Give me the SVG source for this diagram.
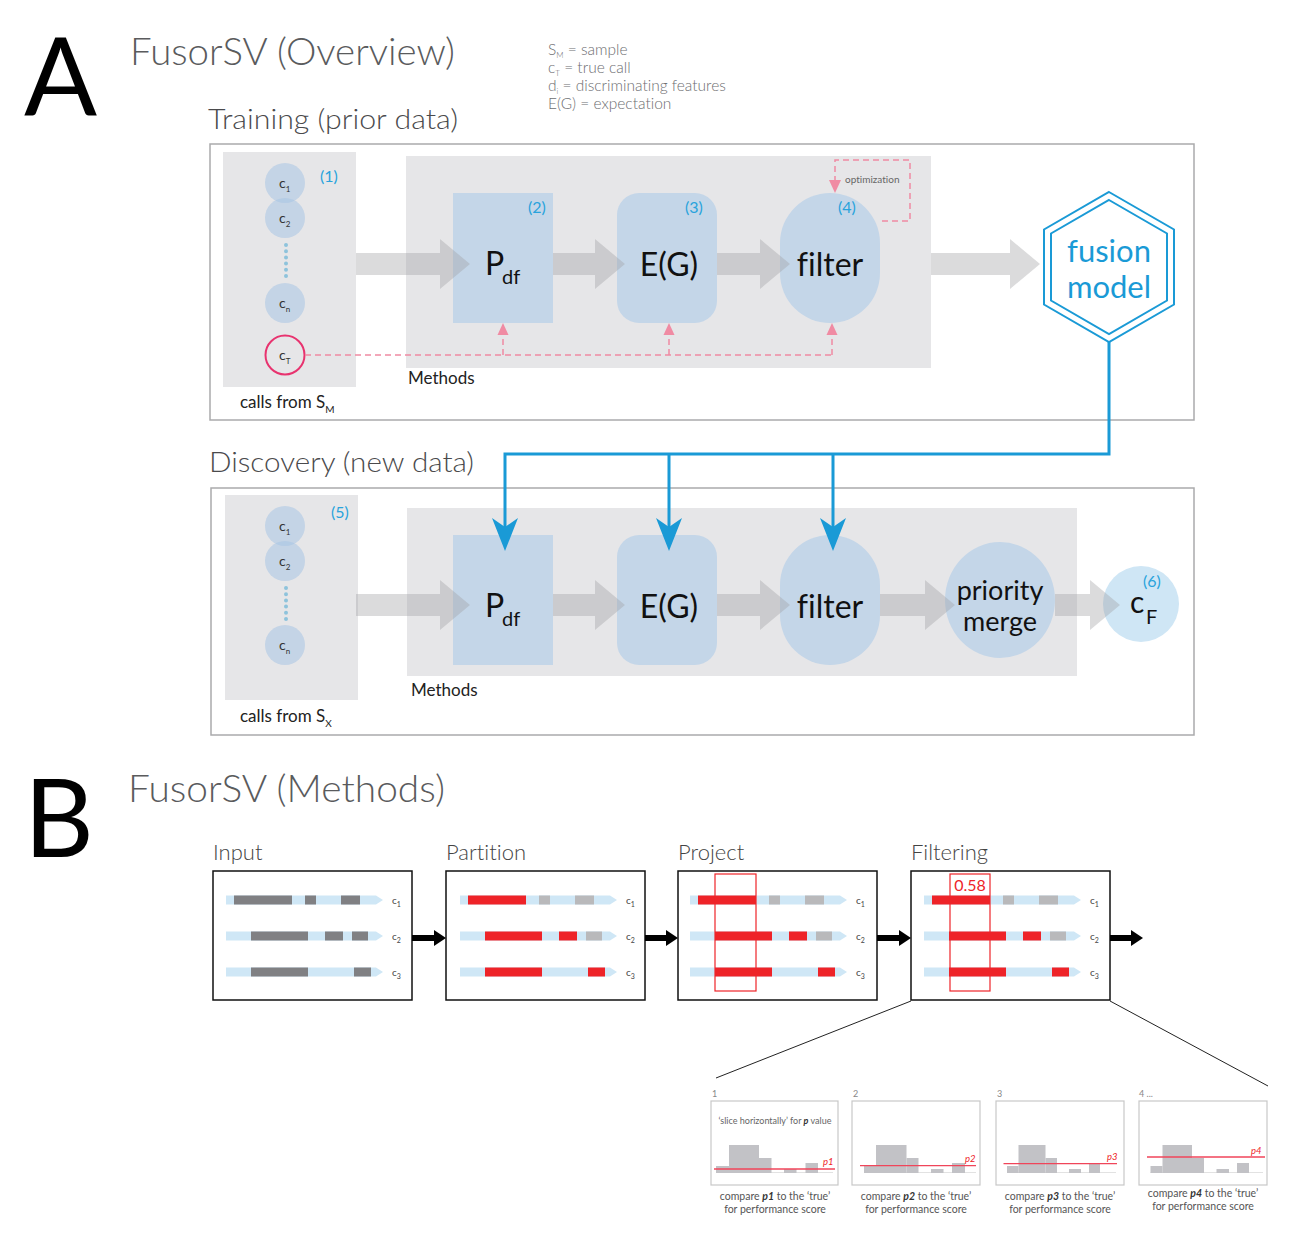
<svg xmlns="http://www.w3.org/2000/svg" width="1304" height="1244" viewBox="0 0 1304 1244">
<style>
text{font-family:Lato,"Noto Sans","Liberation Sans",sans-serif;font-variant-ligatures:none}
.big{font-size:108px;fill:#000}
.h1{font-size:38px;fill:#5a5b5d;font-weight:300}
.h2{font-size:28px;fill:#4a4a4c;font-weight:300}
.leg{font-size:15.5px;fill:#6d6e71;font-weight:300}
.lab{font-size:17px;fill:#222}
.num{font-size:16px;fill:#29a3dc}
.node{fill:#c4d6e8}
.bg{fill:#e6e6e8}
.frame{fill:#fff;stroke:#aaaaac;stroke-width:1.5}
.call{fill:#a8c5e3;fill-opacity:0.55}
.ctxt{font-size:14px;fill:#333}
.csub{font-size:8px;fill:#333}
.gar{fill:#a0a0a2;fill-opacity:0.38}
.nt{font-size:32px;fill:#111;text-anchor:middle}
.pink{fill:none;stroke:#f08ba3;stroke-width:1.5;stroke-dasharray:6 4}
.pinkh{fill:#f08ba3}
.blue{fill:none;stroke:#1a9ad6;stroke-width:3}
.blueh{fill:#1a9ad6}
.pbox{fill:#fff;stroke:#111;stroke-width:1.5}
.ptitle{font-size:22px;fill:#444;font-weight:300}
.bar{fill:#cfe7f6}
.dg{fill:#808083}
.lg{fill:#b9b9bb}
.rd{fill:#ee2328}
.rl{font-size:10px;fill:#444}
.rs{font-size:7px;fill:#444}
.bk{fill:#000}
.sub{fill:#fff;stroke:#c8c8c8;stroke-width:1.2}
.hist{fill:#c2c2c6}
.rline{stroke:#f0455a;stroke-width:1.3}
.cap{font-size:10.5px;fill:#555;text-anchor:middle}
.sn{font-size:9px;fill:#888}
.pl{font-size:9.5px;fill:#ee2328;font-style:italic}
</style>

<!-- Headings -->
<text class="big" x="24" y="115">A</text>
<text class="h1" x="130" y="65" textLength="325" lengthAdjust="spacingAndGlyphs">FusorSV (Overview)</text>
<g id="legend">
<text class="leg" x="548" y="55">S<tspan font-size="8" dy="3">M</tspan><tspan dy="-3"> = sample</tspan></text>
<text class="leg" x="548" y="73">c<tspan font-size="8" dy="3">T</tspan><tspan dy="-3"> = true call</tspan></text>
<text class="leg" x="548" y="91">d<tspan font-size="8" dy="3">i</tspan><tspan dy="-3"> = discriminating features</tspan></text>
<text class="leg" x="548" y="109">E(G) = expectation</text>
</g>
<text class="h2" x="208" y="129" textLength="250" lengthAdjust="spacingAndGlyphs">Training (prior data)</text>

<!-- Training frame -->
<g id="training">
<rect class="frame" x="210" y="144" width="984" height="276"/>
<rect class="bg" x="223" y="152" width="133" height="235"/>
<rect class="bg" x="406" y="156" width="525" height="212"/>
<text class="lab" x="408" y="384">Methods</text>
<text class="lab" x="240" y="408">calls from S<tspan font-size="10" dy="5">M</tspan></text>
</g>

<g id="calls-train">
<circle class="call" cx="285" cy="183" r="20"/>
<circle class="call" cx="285" cy="218" r="20"/>
<circle class="call" cx="285" cy="303" r="20"/>
<line x1="286" y1="245" x2="286" y2="276" stroke="#8ec3dc" stroke-width="4" stroke-linecap="round" stroke-dasharray="0 6.2"/>
<circle cx="285" cy="355" r="19.5" fill="none" stroke="#e8336f" stroke-width="2"/>
<text class="ctxt" x="279" y="188">c<tspan class="csub" dy="4">1</tspan></text>
<text class="ctxt" x="279" y="223">c<tspan class="csub" dy="4">2</tspan></text>
<text class="ctxt" x="279" y="308">c<tspan class="csub" dy="4">n</tspan></text>
<text class="ctxt" x="279" y="360">c<tspan class="csub" dy="4">T</tspan></text>
<text class="num" x="320" y="182">(1)</text>
</g>

<g id="pdf-train">
<rect class="node" x="453" y="193" width="100" height="130"/>
<text x="485" y="275" font-size="32" fill="#111">P</text>
<text x="502" y="284" font-size="20" fill="#111">df</text>
<text class="num" x="528" y="213">(2)</text>
</g>
<g id="eg-train">
<rect class="node" x="617" y="193" width="100" height="130" rx="22"/>
<text class="nt" x="669" y="276">E(G)</text>
<text class="num" x="685" y="213">(3)</text>
</g>
<g id="filter-train">
<rect class="node" x="780" y="193" width="100" height="130" rx="50"/>
<text class="nt" x="830" y="276">filter</text>
<text class="num" x="838" y="213">(4)</text>
</g>
<g id="fusion-model">
<polygon points="1109,192 1174,229.5 1174,304.5 1109,342 1044,304.5 1044,229.5" fill="#fff" stroke="#1a9ad6" stroke-width="2"/>
<polygon points="1109,200 1167,233.5 1167,300.5 1109,334 1051,300.5 1051,233.5" fill="none" stroke="#1a9ad6" stroke-width="2"/>
<text x="1109" y="262" font-size="31" fill="#1a9ad6" text-anchor="middle">fusion</text>
<text x="1109" y="298" font-size="31" fill="#1a9ad6" text-anchor="middle">model</text>
</g>

<!-- Discovery -->
<text class="h2" x="209" y="472" textLength="265" lengthAdjust="spacingAndGlyphs">Discovery (new data)</text>
<g id="discovery">
<rect class="frame" x="211" y="488" width="983" height="247"/>
<rect class="bg" x="225" y="495" width="133" height="205"/>
<rect class="bg" x="407" y="508" width="670" height="168"/>
<text class="lab" x="411" y="696">Methods</text>
<text class="lab" x="240" y="722">calls from S<tspan font-size="10" dy="5">X</tspan></text>
</g>
<g id="calls-disc">
<circle class="call" cx="285" cy="526" r="20"/>
<circle class="call" cx="285" cy="561" r="20"/>
<circle class="call" cx="285" cy="645" r="20"/>
<line x1="286" y1="588" x2="286" y2="619" stroke="#8ec3dc" stroke-width="4" stroke-linecap="round" stroke-dasharray="0 6.2"/>
<text class="ctxt" x="279" y="531">c<tspan class="csub" dy="4">1</tspan></text>
<text class="ctxt" x="279" y="566">c<tspan class="csub" dy="4">2</tspan></text>
<text class="ctxt" x="279" y="650">c<tspan class="csub" dy="4">n</tspan></text>
<text class="num" x="331" y="518">(5)</text>
</g>
<g id="pdf-disc">
<rect class="node" x="453" y="535" width="100" height="130"/>
<text x="485" y="617" font-size="32" fill="#111">P</text>
<text x="502" y="626" font-size="20" fill="#111">df</text>
</g>
<g id="eg-disc">
<rect class="node" x="617" y="535" width="100" height="130" rx="22"/>
<text class="nt" x="669" y="618">E(G)</text>
</g>
<g id="filter-disc">
<rect class="node" x="780" y="535" width="100" height="130" rx="50"/>
<text class="nt" x="830" y="618">filter</text>
</g>
<g id="priority-merge">
<ellipse class="node" cx="1000" cy="600" rx="55" ry="58"/>
<text x="1000" y="600" font-size="27" fill="#111" text-anchor="middle">priority</text>
<text x="1000" y="631" font-size="27" fill="#111" text-anchor="middle">merge</text>
</g>
<g id="cF">
<circle cx="1141" cy="604" r="38" fill="#cfe6f5"/>
<text x="1130" y="613" font-size="30" fill="#111">c</text>
<text x="1146" y="624" font-size="20" fill="#111">F</text>
<text class="num" x="1143" y="587" font-size="15">(6)</text>
</g>

<!-- Connectors panel A -->
<g id="connectors-A">
<polygon class="gar" points="356,253 440,253 440,239 470,264 440,289 440,275 356,275"/>
<polygon class="gar" points="553,253 595,253 595,239 625,264 595,289 595,275 553,275"/>
<polygon class="gar" points="717,253 760,253 760,239 790,264 760,289 760,275 717,275"/>
<polygon class="gar" points="931,253 1010,253 1010,239 1040,264 1010,289 1010,275 931,275"/>
<polygon class="gar" points="356,594 440,594 440,580 470,605 440,630 440,616 356,616"/>
<polygon class="gar" points="553,594 595,594 595,580 625,605 595,630 595,616 553,616"/>
<polygon class="gar" points="717,594 760,594 760,580 790,605 760,630 760,616 717,616"/>
<polygon class="gar" points="880,594 925,594 925,580 955,605 925,630 925,616 880,616"/>
<polygon class="gar" points="1055,594 1090,594 1090,580 1120,605 1090,630 1090,616 1055,616"/>
<path class="pink" d="M305,355 H832 M503,355 V333 M669,355 V333 M832,355 V333"/>
<polygon class="pinkh" points="503,323 497.5,335 508.5,335"/>
<polygon class="pinkh" points="669,323 663.5,335 674.5,335"/>
<polygon class="pinkh" points="832,323 826.5,335 837.5,335"/>
<path class="pink" d="M835,182 V160 H910 V221 H880"/>
<polygon class="pinkh" points="835,193 829,180 841,180"/>
<text x="845" y="183" font-size="10" fill="#666">optimization</text>
<path class="blue" d="M1109,342 V454 H505 V528 M669,454 V528 M833,454 V528"/>
<path class="blueh" d="M505,551 L492,518 L505,527 L518,518 Z"/>
<path class="blueh" d="M669,551 L656,518 L669,527 L682,518 Z"/>
<path class="blueh" d="M833,551 L820,518 L833,527 L846,518 Z"/>
</g>

<!-- Panel B -->
<text class="big" x="24" y="857">B</text>
<text class="h1" x="128" y="802" textLength="317" lengthAdjust="spacingAndGlyphs">FusorSV (Methods)</text>

<defs>
<g id="rows">
<polygon class="bar" points="0,-4.5 150,-4.5 157,0 150,4.5 0,4.5"/>
<polygon class="bar" points="0,31.5 150,31.5 157,36 150,40.5 0,40.5"/>
<polygon class="bar" points="0,67.5 150,67.5 157,72 150,76.5 0,76.5"/>
<text class="rl" x="166" y="4">c<tspan class="rs" dy="3">1</tspan></text>
<text class="rl" x="166" y="40">c<tspan class="rs" dy="3">2</tspan></text>
<text class="rl" x="166" y="76">c<tspan class="rs" dy="3">3</tspan></text>
</g>
</defs>

<g id="input">
<text class="ptitle" x="213" y="860">Input</text>
<rect class="pbox" x="213" y="871" width="199" height="129"/>
<g transform="translate(226,900)">
<use href="#rows"/>
<rect class="dg" x="8" y="-4.5" width="58" height="9"/>
<rect class="dg" x="79" y="-4.5" width="11" height="9"/>
<rect class="dg" x="115" y="-4.5" width="19" height="9"/>
<rect class="dg" x="25" y="31.5" width="57" height="9"/>
<rect class="dg" x="99" y="31.5" width="18" height="9"/>
<rect class="dg" x="126" y="31.5" width="16" height="9"/>
<rect class="dg" x="25" y="67.5" width="57" height="9"/>
<rect class="dg" x="128" y="67.5" width="17" height="9"/>
</g>
</g>

<g id="partition">
<text class="ptitle" x="446" y="860">Partition</text>
<rect class="pbox" x="446" y="871" width="199" height="129"/>
<g transform="translate(460,900)">
<use href="#rows"/>
<rect class="rd" x="8" y="-4.5" width="58" height="9"/>
<rect class="lg" x="79" y="-4.5" width="11" height="9"/>
<rect class="lg" x="115" y="-4.5" width="19" height="9"/>
<rect class="rd" x="25" y="31.5" width="57" height="9"/>
<rect class="rd" x="99" y="31.5" width="18" height="9"/>
<rect class="lg" x="126" y="31.5" width="16" height="9"/>
<rect class="rd" x="25" y="67.5" width="57" height="9"/>
<rect class="rd" x="128" y="67.5" width="17" height="9"/>
</g>
</g>

<g id="project">
<text class="ptitle" x="678" y="860">Project</text>
<rect class="pbox" x="678" y="871" width="199" height="129"/>
<g transform="translate(690,900)">
<use href="#rows"/>
<rect class="rd" x="8" y="-4.5" width="58" height="9"/>
<rect class="lg" x="79" y="-4.5" width="11" height="9"/>
<rect class="lg" x="115" y="-4.5" width="19" height="9"/>
<rect class="rd" x="25" y="31.5" width="57" height="9"/>
<rect class="rd" x="99" y="31.5" width="18" height="9"/>
<rect class="lg" x="126" y="31.5" width="16" height="9"/>
<rect class="rd" x="25" y="67.5" width="57" height="9"/>
<rect class="rd" x="128" y="67.5" width="17" height="9"/>
<rect x="25" y="-26" width="41" height="117" fill="none" stroke="#ee2328" stroke-width="1.2"/>
</g>
</g>

<g id="filtering">
<text class="ptitle" x="911" y="860">Filtering</text>
<rect class="pbox" x="911" y="871" width="199" height="129"/>
<g transform="translate(924,900)">
<use href="#rows"/>
<rect class="rd" x="8" y="-4.5" width="58" height="9"/>
<rect class="lg" x="79" y="-4.5" width="11" height="9"/>
<rect class="lg" x="115" y="-4.5" width="19" height="9"/>
<rect class="rd" x="25" y="31.5" width="57" height="9"/>
<rect class="rd" x="99" y="31.5" width="18" height="9"/>
<rect class="lg" x="126" y="31.5" width="16" height="9"/>
<rect class="rd" x="25" y="67.5" width="57" height="9"/>
<rect class="rd" x="128" y="67.5" width="17" height="9"/>
<rect x="26" y="-26" width="40" height="117" fill="none" stroke="#ee2328" stroke-width="1.2"/>
<text x="46" y="-9" font-size="16" fill="#ee2328" text-anchor="middle">0.58</text>
</g>
</g>

<g id="connectors-B">
<polygon class="bk" points="412,935 434,935 434,930 446,938 434,946 434,941 412,941"/>
<polygon class="bk" points="645,935 666,935 666,930 678,938 666,946 666,941 645,941"/>
<polygon class="bk" points="877,935 899,935 899,930 911,938 899,946 899,941 877,941"/>
<polygon class="bk" points="1110,935 1131,935 1131,930 1143,938 1131,946 1131,941 1110,941"/>
<line x1="911" y1="1001" x2="716" y2="1078" stroke="#222" stroke-width="1"/>
<line x1="1110" y1="1001" x2="1268" y2="1086" stroke="#222" stroke-width="1"/>
</g>

<g id="step1">
<text class="sn" x="712" y="1097">1</text>
<rect class="sub" x="711" y="1101" width="127" height="84"/>
<text x="775" y="1124" font-size="9" fill="#666" text-anchor="middle">‘slice horizontally’ for <tspan font-style="italic" font-weight="bold" fill="#333">p</tspan> value</text>
<g transform="translate(711,1101)">
<line x1="5" y1="71.5" x2="122" y2="71.5" stroke="#e2e2e2" stroke-width="1"/>
<rect class="hist" x="5" y="65" width="13" height="7"/>
<rect class="hist" x="18" y="44" width="30" height="28"/>
<rect class="hist" x="48" y="57" width="12.5" height="15"/>
<rect class="hist" x="73" y="68" width="12.5" height="4"/>
<rect class="hist" x="94.5" y="62" width="12.5" height="10"/>
<line class="rline" x1="3" y1="68" x2="124" y2="68"/>
<text class="pl" x="112" y="64">p1</text>
</g>
<text class="cap" x="775" y="1200">compare <tspan font-style="italic" font-weight="bold" fill="#333">p1</tspan> to the ‘true’</text>
<text class="cap" x="775" y="1213">for performance score</text>
</g>

<g id="step2">
<text class="sn" x="853" y="1097">2</text>
<rect class="sub" x="852" y="1101" width="128" height="84"/>
<g transform="translate(852,1101)">
<line x1="12" y1="71.5" x2="124" y2="71.5" stroke="#e2e2e2" stroke-width="1"/>
<rect class="hist" x="12" y="65" width="12" height="7"/>
<rect class="hist" x="24" y="44" width="30.5" height="28"/>
<rect class="hist" x="54.5" y="57" width="12" height="15"/>
<rect class="hist" x="79" y="68" width="12.5" height="4"/>
<rect class="hist" x="100" y="62" width="13" height="10"/>
<line class="rline" x1="8" y1="64.7" x2="124" y2="64.7"/>
<text class="pl" x="113" y="61">p2</text>
</g>
<text class="cap" x="916" y="1200">compare <tspan font-style="italic" font-weight="bold" fill="#333">p2</tspan> to the ‘true’</text>
<text class="cap" x="916" y="1213">for performance score</text>
</g>

<g id="step3">
<text class="sn" x="997" y="1097">3</text>
<rect class="sub" x="996" y="1101" width="128" height="84"/>
<g transform="translate(996,1101)">
<line x1="11" y1="71.5" x2="120" y2="71.5" stroke="#e2e2e2" stroke-width="1"/>
<rect class="hist" x="11" y="65" width="11.5" height="7"/>
<rect class="hist" x="22.5" y="44" width="27" height="28"/>
<rect class="hist" x="49.5" y="57" width="11.5" height="15"/>
<rect class="hist" x="73" y="68" width="12" height="4"/>
<rect class="hist" x="93" y="62" width="11" height="10"/>
<line class="rline" x1="7.5" y1="62.7" x2="121" y2="62.7"/>
<text class="pl" x="111" y="59">p3</text>
</g>
<text class="cap" x="1060" y="1200">compare <tspan font-style="italic" font-weight="bold" fill="#333">p3</tspan> to the ‘true’</text>
<text class="cap" x="1060" y="1213">for performance score</text>
</g>

<g id="step4">
<text class="sn" x="1139" y="1097">4 ...</text>
<rect class="sub" x="1139" y="1101" width="128" height="84"/>
<g transform="translate(1139,1101)">
<line x1="11.5" y1="71.5" x2="124" y2="71.5" stroke="#e2e2e2" stroke-width="1"/>
<rect class="hist" x="11.5" y="65" width="12" height="7"/>
<rect class="hist" x="23.5" y="44" width="29.5" height="28"/>
<rect class="hist" x="53" y="57" width="12" height="15"/>
<rect class="hist" x="77.5" y="68" width="12.5" height="4"/>
<rect class="hist" x="98" y="62" width="12" height="10"/>
<line class="rline" x1="8" y1="56" x2="126" y2="56"/>
<text class="pl" x="112" y="53">p4</text>
</g>
<text class="cap" x="1203" y="1197">compare <tspan font-style="italic" font-weight="bold" fill="#333">p4</tspan> to the ‘true’</text>
<text class="cap" x="1203" y="1210">for performance score</text>
</g>
</svg>
